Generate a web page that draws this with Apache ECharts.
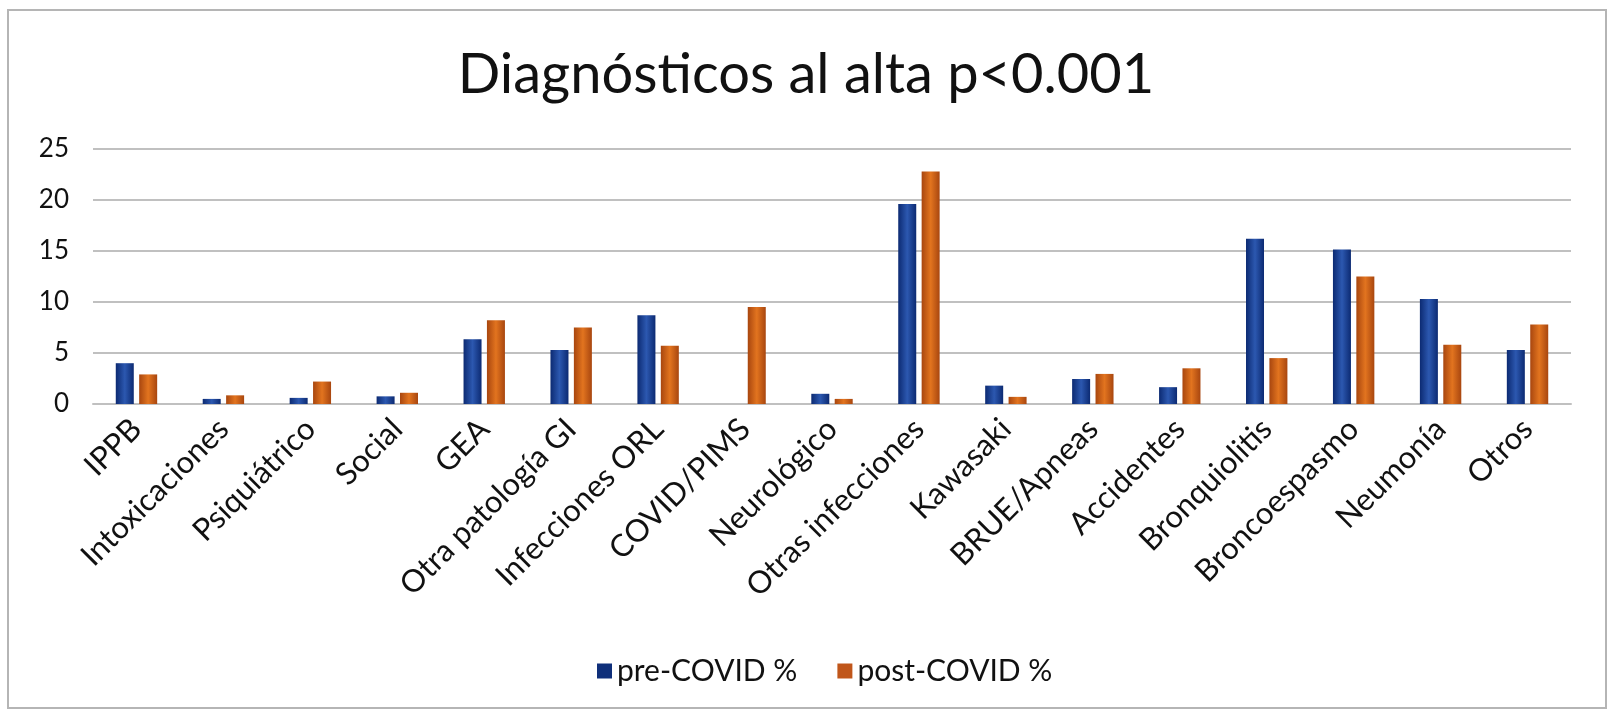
<!DOCTYPE html>
<html>
<head>
<meta charset="utf-8">
<script src="https://cdn.jsdelivr.net/npm/echarts@6/dist/echarts.min.js"></script>
<style>
  html, body { margin: 0; padding: 0; background: #fff; }
  #chart { width: 1612px; height: 711px; }
</style>
</head>
<body>
<div id="chart"></div>
<script>
// Diagnósticos al alta, pre vs post COVID (%)
const categories = ['IPPB', 'Intoxicaciones', 'Psiquiátrico', 'Social', 'GEA', 'Otra patología GI',
    'Infecciones ORL', 'COVID/PIMS', 'Neurológico', 'Otras infecciones', 'Kawasaki', 'BRUE/Apneas',
    'Accidentes', 'Bronquiolitis', 'Broncoespasmo', 'Neumonía', 'Otros'];
const preCovid = [4.0, 0.5, 0.6, 0.75, 6.35, 5.3, 8.7, 0, 1.0, 19.6, 1.8, 2.45, 1.65, 16.2, 15.15, 10.3, 5.3];
const postCovid = [2.9, 0.85, 2.2, 1.1, 8.2, 7.5, 5.7, 9.5, 0.5, 22.8, 0.7, 2.95, 3.5, 4.5, 12.5, 5.8, 7.8];
const yTicks = [0, 5, 10, 15, 20, 25];

const FONT = 'Lato, "Open Sans", sans-serif';

function barGrad(edge, mid) {
    return new echarts.graphic.LinearGradient(0, 0, 1, 0, [
        { offset: 0, color: edge },
        { offset: 0.5, color: mid },
        { offset: 1, color: edge }
    ]);
}

const chart = echarts.init(document.getElementById('chart'));

const option = {
    backgroundColor: '#fff',
    animation: false,
    title: {
        text: 'Diagnósticos al alta p<0.001',
        left: 'center',
        top: 42,
        textStyle: { color: '#111', fontSize: 56, fontWeight: 'normal', fontFamily: FONT }
    },
    legend: {
        top: 651,
        left: 592,
        itemWidth: 15,
        itemHeight: 15,
        itemGap: 40,
        icon: 'rect',
        textStyle: { color: '#111', fontSize: 30, fontFamily: FONT },
        data: [
            { name: 'pre-COVID %', itemStyle: { color: '#0f2f7a' } },
            { name: 'post-COVID %', itemStyle: { color: '#c0561a' } }
        ]
    },
    grid: { left: 93, right: 41, top: 149, bottom: 307 },
    graphic: [{
        type: 'rect',
        shape: { x: 8, y: 10, width: 1598, height: 698 },
        style: { fill: 'none', stroke: '#b5b5b5', lineWidth: 2 },
        silent: true
    }],
    xAxis: {
        type: 'category',
        data: categories,
        axisLine: { lineStyle: { color: '#c0c0c0', width: 2 } },
        axisTick: { show: false },
        axisLabel: { rotate: 45, color: '#111', fontSize: 31, fontFamily: FONT, margin: 20, interval: 0 }
    },
    yAxis: {
        type: 'value',
        min: yTicks[0],
        max: yTicks[yTicks.length - 1],
        interval: 5,
        axisLine: { show: false },
        axisTick: { show: false },
        axisLabel: { color: '#111', fontSize: 26, fontFamily: FONT, margin: 24 },
        splitLine: { lineStyle: { color: '#c0c0c0', width: 2 } }
    },
    series: [{
        name: 'pre-COVID %',
        type: 'bar',
        data: preCovid,
        barWidth: 18,
        barGap: '30%',
        itemStyle: { color: barGrad('#0c2a72', '#2c58b0') }
    }, {
        name: 'post-COVID %',
        type: 'bar',
        data: postCovid,
        barWidth: 18,
        itemStyle: { color: barGrad('#a8460f', '#e2741f') }
    }]
};

chart.setOption(option);

window.addEventListener('resize', () => chart.resize());
</script>
</body>
</html>
